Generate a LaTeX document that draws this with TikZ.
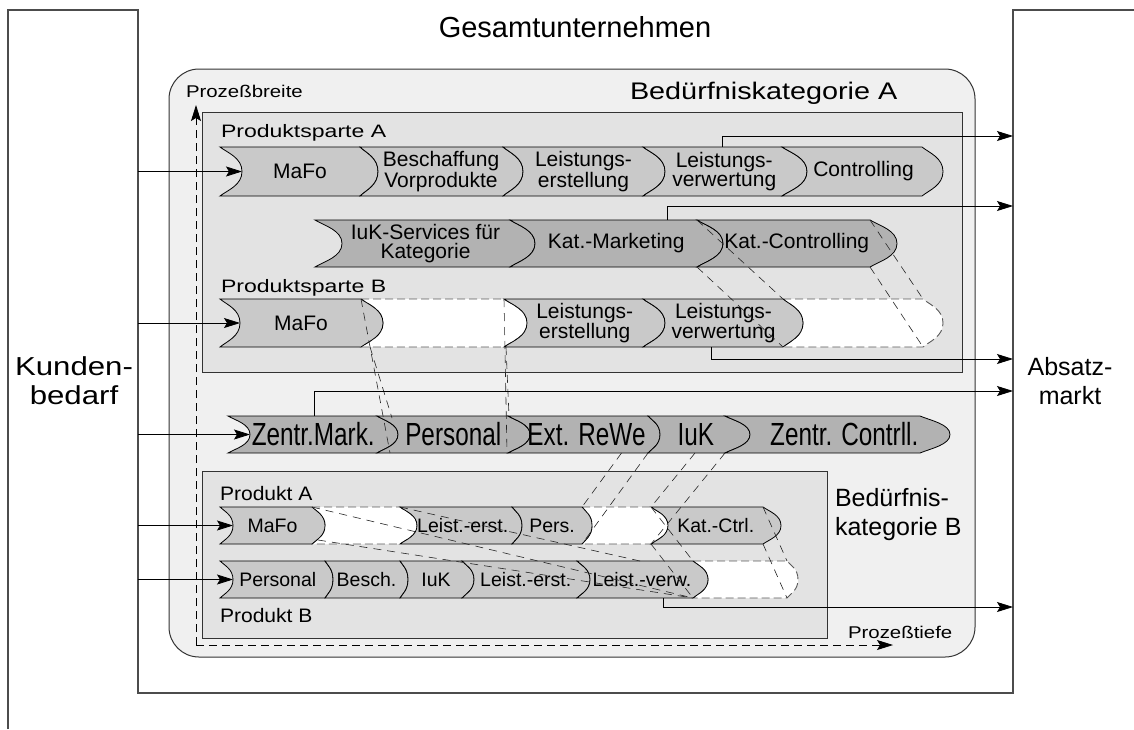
\documentclass[tikz,border=0pt]{standalone}
\usepackage{fontspec}
\setmainfont{Liberation Sans}
\newfontfamily\fSt{Liberation Sans}[FakeStretch=1.2]
\newfontfamily\fStB{Liberation Sans}[FakeStretch=1.28]
\newfontfamily\fStC{Liberation Sans}[FakeStretch=1.08]
\newfontfamily\fCo{Liberation Sans}[FakeStretch=0.76]
\usetikzlibrary{arrows.meta}
\definecolor{cBg}{gray}{0.94}
\definecolor{cBox}{gray}{0.89}
\definecolor{cLt}{gray}{0.79}
\definecolor{cDk}{gray}{0.70}
\def\chevfont{\fontsize{21}{19.5}\selectfont}
% #1 name, #2 style, #3 x0, #4 x1, #5 ytop, #6 ybottom, #7 notch depth, #8 tip depth, #9 text
\newcommand\chev[9]{%
  \pgfmathsetmacro\chYm{(#5+#6)/2}%
  \pgfmathsetmacro\chH{#6-#5}%
  \pgfmathsetmacro\chYa{#5+0.12*\chH}%
  \pgfmathsetmacro\chYb{\chYm-0.28*\chH}%
  \pgfmathsetmacro\chYc{\chYm+0.28*\chH}%
  \pgfmathsetmacro\chYd{#6-0.12*\chH}%
  \pgfmathsetmacro\chRa{#4+0.35*#8}%
  \pgfmathsetmacro\chRb{#4+#8}%
  \pgfmathsetmacro\chLa{#3+0.35*#7}%
  \pgfmathsetmacro\chLb{#3+#7}%
  \pgfmathsetmacro\chTx{(#3+#4)/2+(#7+#8)/4}%
  \path[#2] (#3,#5) -- (#4,#5) .. controls (\chRa,\chYa) and (\chRb,\chYb) .. (\chRb,\chYm)
     .. controls (\chRb,\chYc) and (\chRa,\chYd) .. (#4,#6) -- (#3,#6)
     .. controls (\chLa,\chYd) and (\chLb,\chYc) .. (\chLb,\chYm)
     .. controls (\chLb,\chYb) and (\chLa,\chYa) .. (#3,#5) -- cycle;
  \coordinate (#1-tl) at (#3,#5);
  \coordinate (#1-tr) at (#4,#5);
  \coordinate (#1-bl) at (#3,#6);
  \coordinate (#1-br) at (#4,#6);
  \coordinate (#1-n) at (\chLb,\chYm);
  \coordinate (#1-p) at (\chRb,\chYm);
  \node[ctext] (#1) at (\chTx,\chYm) {#9};%
}
\begin{document}
\begin{tikzpicture}[x=1pt,y=-1pt,
  every node/.style={inner sep=0pt,outer sep=0pt},
  ctext/.style={font=\chevfont,align=center},
  cA/.style={fill=cLt,draw=black,line width=0.8pt},
  cB/.style={fill=cDk,draw=black,line width=0.8pt},
  cW/.style={fill=white,draw=black!65,line width=0.9pt,dash pattern=on 8pt off 4pt},
  proj/.style={draw=black!85,line width=0.6pt,dash pattern=on 8pt off 6pt},
  axis/.style={draw=black,line width=0.8pt,dash pattern=on 8pt off 5pt,
     -{Stealth[length=16pt,width=10pt,inset=3pt]}},
  arr/.style={draw=black,line width=0.8pt,-{Stealth[length=16pt,width=10pt,inset=3pt]}},
  frame/.style={draw=black!70,line width=1.4pt},
  box/.style={fill=cBox,draw=black!80,line width=0.9pt},
  bigA/.style={font=\fSt\fontsize{26}{29}\selectfont,align=center},
  bigB/.style={font=\fontsize{25}{29}\selectfont,align=center}]
\useasboundingbox (0,0) rectangle (1134,729);
\fill[white] (0,0) rectangle (1134,729);
% frame
\draw[frame] (8,729) -- (8,10) -- (138,10) -- (138,693) -- (1013,693) -- (1013,10) -- (1134,10);
% category A / B area
\path[fill=cBg,draw=black!80,line width=1pt,rounded corners=30pt] (169,69) rectangle (975,657);
\path[box] (202,112) rectangle (962,372);
\path[box] (202,471) rectangle (827,638);
% axes
\coordinate (ax0) at (196,645);
\coordinate (axup) at (196,105);
\coordinate (axrt) at (893,645);
\draw[axis] (ax0) -- (axup);
\draw[axis] (ax0) -- (axrt);
% ---------- row 1 (Produktsparte A)
\chev{mafoA}{cA}{220}{360}{147}{196}{22}{18}{MaFo}
\chev{beschA}{cA}{360}{503}{147}{196}{18}{20}{Beschaffung\\Vorprodukte}
\chev{leA}{cA}{503}{643}{147}{196}{20}{22}{Leistungs-\\erstellung}
\chev{lvA}{cA}{643}{782}{147}{196}{22}{25}{Leistungs-\\verwertung}
\chev{ctrlA}{cA}{782}{922}{147}{196}{25}{21}{Controlling}
% ---------- row 2
\chev{iukS}{cB}{315}{510}{220}{267}{27}{25}{IuK-Services f\"ur\\Kategorie}
\chev{katM}{cB}{510}{697}{220}{267}{25}{26}{Kat.-Marketing}
\chev{katC}{cB}{697}{870}{220}{267}{26}{27}{Kat.-Controlling}
% ---------- row 3 (Produktsparte B)
\chev{gapB1}{cW}{361}{504}{299}{347}{22}{23}{}
\chev{gapB2}{cW}{783}{923}{299}{347}{20}{20}{}
\chev{mafoB}{cA}{220}{361}{299}{347}{20}{22}{MaFo}
\chev{leB}{cA}{504}{643}{299}{347}{23}{22}{Leistungs-\\erstellung}
\chev{lvB}{cA}{643}{783}{299}{347}{22}{20}{Leistungs-\\verwertung}
% ---------- central row
\def\chevfont{\fCo\fontsize{32}{32}\selectfont}
\chev{zm}{cB}{228}{377}{416}{453}{22}{21}{Zentr.Mark.}
\chev{zp}{cB}{377}{508}{416}{453}{21}{22}{Personal}
\chev{zr}{cB}{508}{648}{416}{453}{22}{12}{Ext. ReWe}
\chev{zi}{cB}{648}{725}{416}{453}{12}{25}{IuK}
\chev{zc}{cB}{725}{920}{416}{453}{25}{30}{\hspace*{16pt}Zentr. Contrll.}
% ---------- Produkt A
\def\chevfont{\fontsize{19.5}{19.5}\selectfont}
\chev{gapP1}{cW}{312}{400}{507}{544}{13}{17}{}
\chev{gapP2}{cW}{582}{651}{507}{544}{10}{17}{}
\chev{mafoP}{cA}{220}{312}{507}{544}{13}{13}{MaFo}
\chev{lePA}{cA}{400}{512}{507}{544}{17}{10}{Leist.-erst.}
\chev{persPA}{cA}{512}{582}{507}{544}{10}{10}{Pers.}
\chev{kcPA}{cA}{651}{763}{507}{544}{17}{18}{Kat.-Ctrl.}
% ---------- Produkt B
\chev{gapQ}{cW}{693}{787}{561}{598}{15}{11}{}
\chev{persQ}{cA}{220}{325}{561}{598}{13}{8}{Personal}
\chev{beschQ}{cA}{325}{400}{561}{598}{8}{8}{Besch.}
\chev{iukQ}{cA}{400}{462}{561}{598}{8}{12}{IuK}
\chev{leQ}{cA}{462}{577}{561}{598}{12}{13}{Leist.-erst.}
\chev{lvQ}{cA}{577}{693}{561}{598}{13}{15}{Leist.-verw.}
% ---------- projection lines
\coordinate (p1a) at (390,453);
\coordinate (p1b0) at (370,347);
\coordinate (p1b) at (392,418);
\coordinate (p1c) at (507,453);
\coordinate (p1d0) at (506,347);
\coordinate (p1d) at (509,416);
\draw[proj] (gapB1-tl) -- (p1a);
\draw[proj] (p1b0) -- (p1b);
\draw[proj] (gapB1-tr) -- (p1c);
\draw[proj] (p1d0) -- (p1d);
\draw[proj] (katC-tl) -- (gapB2-tl);
\draw[proj] (katC-bl) -- (gapB2-bl);
\draw[proj] (katC-tr) -- (gapB2-tr);
\draw[proj] (katC-br) -- (gapB2-br);
\coordinate (p3a) at (621.5,453);
\coordinate (p3c) at (695,453);
\draw[proj] (p3a) -- (gapP2-tl);
\draw[proj] (zi-bl) -- (gapP2-bl);
\draw[proj] (p3c) -- (gapP2-tr);
\draw[proj] (zi-br) -- (gapP2-br);
\draw[proj] (kcPA-tl) -- (gapQ-tl);
\draw[proj] (kcPA-bl) -- (gapQ-bl);
\draw[proj] (kcPA-tr) -- (gapQ-tr);
\draw[proj] (kcPA-br) -- (gapQ-br);
\coordinate (p5b) at (318,540);
\coordinate (p5c) at (640,561);
\draw[proj] (gapP1-tl) -- (lvQ-br);
\draw[proj] (p5b) -- (lvQ-br);
\draw[proj] (gapP1-tr) -- (p5c);
% ---------- input arrows
\coordinate (in1) at (138,171.5);
\coordinate (in2) at (138,323);
\coordinate (in3) at (138,434.5);
\coordinate (in4) at (138,525.5);
\coordinate (in5) at (138,579.5);
\draw[arr] (in1) -- (mafoA-n);
\draw[arr] (in2) -- (mafoB-n);
\draw[arr] (in3) -- (zm-n);
\draw[arr] (in4) -- (mafoP-n);
\draw[arr] (in5) -- (persQ-n);
% ---------- output arrows
\coordinate (o1s) at (722,147);  \coordinate (o1e) at (1013,136);
\coordinate (o2s) at (667,220);  \coordinate (o2e) at (1013,206);
\coordinate (o3s) at (711,347);  \coordinate (o3e) at (1013,359);
\coordinate (o4s) at (314,416);  \coordinate (o4e) at (1013,391);
\coordinate (o5s) at (663,598);  \coordinate (o5e) at (1013,607);
\draw[arr] (o1s) |- (o1e);
\draw[arr] (o2s) |- (o2e);
\draw[arr] (o3s) |- (o3e);
\draw[arr] (o4s) |- (o4e);
\draw[arr] (o5s) |- (o5e);
% ---------- labels
\node[anchor=base] (gesamt) at (575,37) {\fontsize{29}{29}\selectfont Gesamtunternehmen};
\node[anchor=base west] (bkA) at (630,99) {\fSt\fontsize{24}{24}\selectfont Bed\"urfniskategorie A};
\node[anchor=base west] (pbreit) at (186,97) {\fSt\fontsize{17}{17}\selectfont Proze\ss breite};
\node[anchor=base west] (ptief) at (848,638) {\fSt\fontsize{17}{17}\selectfont Proze\ss tiefe};
\node[anchor=base west] (psA) at (221,137) {\fStB\fontsize{18}{18}\selectfont Produktsparte A};
\node[anchor=base west] (psB) at (221,292) {\fStB\fontsize{18}{18}\selectfont Produktsparte B};
\node[anchor=base west] (prA) at (220,500) {\fStC\fontsize{19.5}{19.5}\selectfont Produkt A};
\node[anchor=base west] (prB) at (220,622) {\fStC\fontsize{19.5}{19.5}\selectfont Produkt B};
\node[anchor=north west,align=left,font=\fontsize{25}{29}\selectfont] (bkB) at (835,488) {Bed\"urfnis-\\kategorie B};
\node[bigA] (kunden) at (74,381) {Kunden-\\bedarf};
\node[bigB] (absatz) at (1070,381) {Absatz-\\markt};
\end{tikzpicture}
\end{document}
